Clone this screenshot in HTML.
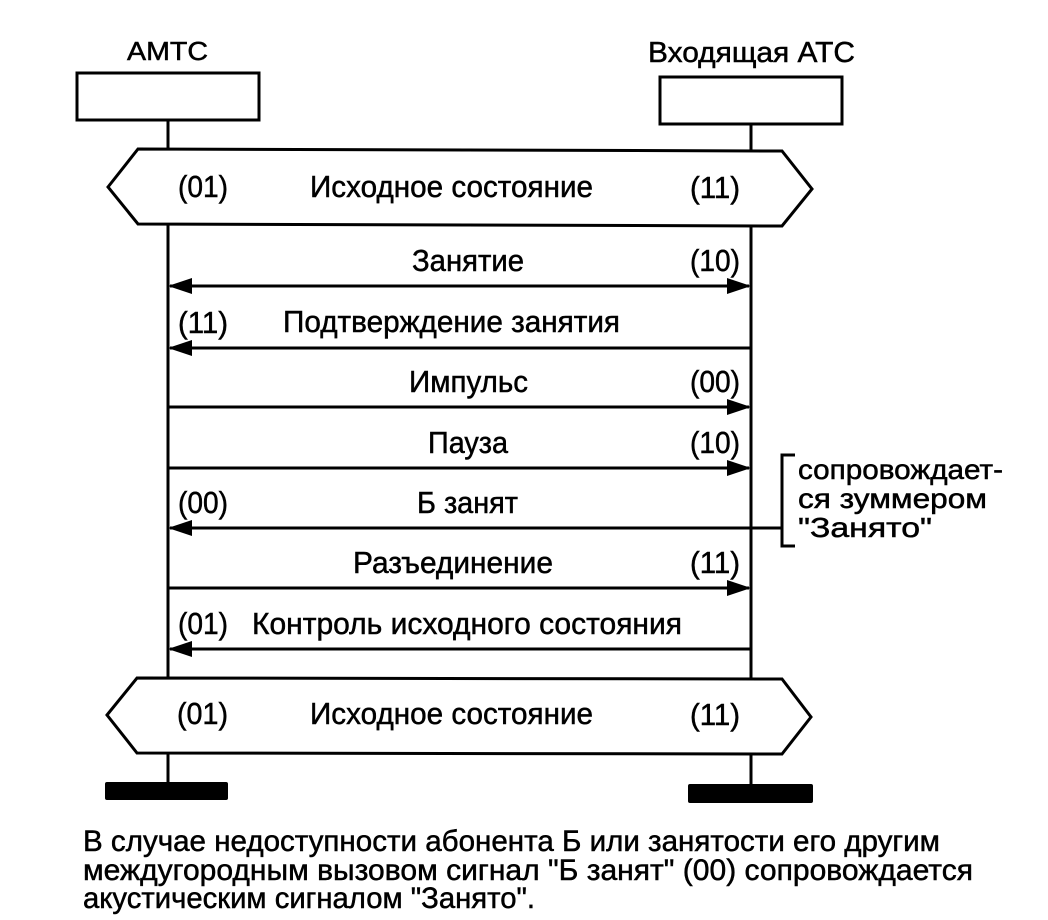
<!DOCTYPE html>
<html>
<head>
<meta charset="utf-8">
<style>
  html,body{margin:0;padding:0;background:#fff;}
  svg{display:block;}
  text{font-family:"Liberation Sans","Noto Sans CJK SC",sans-serif;fill:#000;stroke:#000;stroke-width:0.5px;}
</style>
</head>
<body>
<svg width="1048" height="920" viewBox="0 0 1048 920" xmlns="http://www.w3.org/2000/svg">
  <rect x="0" y="0" width="1048" height="920" fill="#fff"/>

  <!-- headers -->
  <text x="127" y="60" font-size="26" textLength="81" lengthAdjust="spacingAndGlyphs">АМТС</text>
  <text x="648" y="62" font-size="29" textLength="207" lengthAdjust="spacingAndGlyphs">Входящая АТС</text>

  <!-- boxes -->
  <rect x="77" y="73" width="182" height="47" fill="none" stroke="#000" stroke-width="3"/>
  <rect x="660" y="77" width="182" height="47" fill="none" stroke="#000" stroke-width="3"/>

  <!-- lifelines -->
  <g stroke="#000" stroke-width="3" fill="none">
    <line x1="168" y1="120" x2="168" y2="149"/>
    <line x1="168" y1="224" x2="168" y2="678"/>
    <line x1="168" y1="753" x2="168" y2="783"/>
    <line x1="751" y1="124" x2="751" y2="151"/>
    <line x1="751" y1="226" x2="751" y2="679"/>
    <line x1="751" y1="754" x2="751" y2="784"/>
  </g>

  <!-- top hexagon -->
  <polygon points="108,187 138,149 782,151 812,189 782,226 138,224" fill="#fff" stroke="#000" stroke-width="3" stroke-linejoin="miter"/>
  <text x="178" y="197" font-size="31" textLength="50" lengthAdjust="spacingAndGlyphs">(01)</text>
  <text x="310" y="197" font-size="31" textLength="283" lengthAdjust="spacingAndGlyphs">Исходное состояние</text>
  <text x="690" y="198" font-size="31" textLength="50" lengthAdjust="spacingAndGlyphs">(11)</text>

  <!-- bottom hexagon -->
  <polygon points="107,715 137,678 782,679 811,717 782,754 137,753" fill="#fff" stroke="#000" stroke-width="3" stroke-linejoin="miter"/>
  <text x="177" y="724" font-size="31" textLength="51" lengthAdjust="spacingAndGlyphs">(01)</text>
  <text x="310" y="724" font-size="31" textLength="283" lengthAdjust="spacingAndGlyphs">Исходное состояние</text>
  <text x="690" y="725" font-size="31" textLength="50" lengthAdjust="spacingAndGlyphs">(11)</text>

  <!-- messages -->
  <g stroke="#000" stroke-width="3">
    <line x1="170" y1="286" x2="749" y2="286"/>
    <line x1="170" y1="348" x2="751" y2="348"/>
    <line x1="168" y1="407" x2="749" y2="407"/>
    <line x1="168" y1="468" x2="749" y2="468"/>
    <line x1="170" y1="528" x2="782" y2="528"/>
    <line x1="168" y1="588" x2="749" y2="588"/>
    <line x1="170" y1="649" x2="751" y2="649"/>
  </g>
  <g fill="#000">
    <polygon points="168,286 192,278 192,294"/>
    <polygon points="751,286 727,278 727,294"/>
    <polygon points="168,348 192,340 192,356"/>
    <polygon points="751,407 727,399 727,415"/>
    <polygon points="751,468 727,460 727,476"/>
    <polygon points="168,528 192,520 192,536"/>
    <polygon points="751,588 727,580 727,596"/>
    <polygon points="168,649 192,641 192,657"/>
  </g>

  <!-- labels -->
  <text x="412" y="271" font-size="31" textLength="112" lengthAdjust="spacingAndGlyphs">Занятие</text>
  <text x="690" y="271" font-size="31" textLength="50" lengthAdjust="spacingAndGlyphs">(10)</text>

  <text x="178" y="333" font-size="31" textLength="50" lengthAdjust="spacingAndGlyphs">(11)</text>
  <text x="283" y="332" font-size="31" textLength="337" lengthAdjust="spacingAndGlyphs">Подтверждение занятия</text>

  <text x="409" y="392" font-size="31" textLength="119" lengthAdjust="spacingAndGlyphs">Импульс</text>
  <text x="690" y="392" font-size="31" textLength="50" lengthAdjust="spacingAndGlyphs">(00)</text>

  <text x="428" y="453" font-size="31" textLength="80" lengthAdjust="spacingAndGlyphs">Пауза</text>
  <text x="690" y="453" font-size="31" textLength="50" lengthAdjust="spacingAndGlyphs">(10)</text>

  <text x="178" y="513" font-size="31" textLength="50" lengthAdjust="spacingAndGlyphs">(00)</text>
  <text x="417" y="513" font-size="31" textLength="101" lengthAdjust="spacingAndGlyphs">Б занят</text>

  <text x="353" y="573" font-size="31" textLength="200" lengthAdjust="spacingAndGlyphs">Разъединение</text>
  <text x="690" y="573" font-size="31" textLength="50" lengthAdjust="spacingAndGlyphs">(11)</text>

  <text x="178" y="634" font-size="31" textLength="50" lengthAdjust="spacingAndGlyphs">(01)</text>
  <text x="252" y="634" font-size="31" textLength="430" lengthAdjust="spacingAndGlyphs">Контроль исходного состояния</text>

  <!-- bracket -->
  <polyline points="795,455 782,455 782,546 795,546" fill="none" stroke="#000" stroke-width="3"/>
  <text x="798" y="479" font-size="28" textLength="205" lengthAdjust="spacingAndGlyphs">сопровождает-</text>
  <text x="798" y="508" font-size="28" textLength="189" lengthAdjust="spacingAndGlyphs">ся зуммером</text>
  <text x="798" y="537" font-size="28" textLength="134" lengthAdjust="spacingAndGlyphs">"Занято"</text>

  <!-- terminal bars -->
  <rect x="105" y="782" width="123" height="18" rx="2" fill="#000"/>
  <rect x="688" y="784" width="125" height="19" rx="2" fill="#000"/>

  <!-- footer -->
  <text x="83" y="851" font-size="30" textLength="857" lengthAdjust="spacingAndGlyphs">В случае недоступности абонента Б или занятости его другим</text>
  <text x="83" y="880" font-size="30" textLength="890" lengthAdjust="spacingAndGlyphs">междугородным вызовом сигнал "Б занят" (00) сопровождается</text>
  <text x="83" y="908" font-size="30" textLength="452" lengthAdjust="spacingAndGlyphs">акустическим сигналом "Занято".</text>
</svg>
</body>
</html>
